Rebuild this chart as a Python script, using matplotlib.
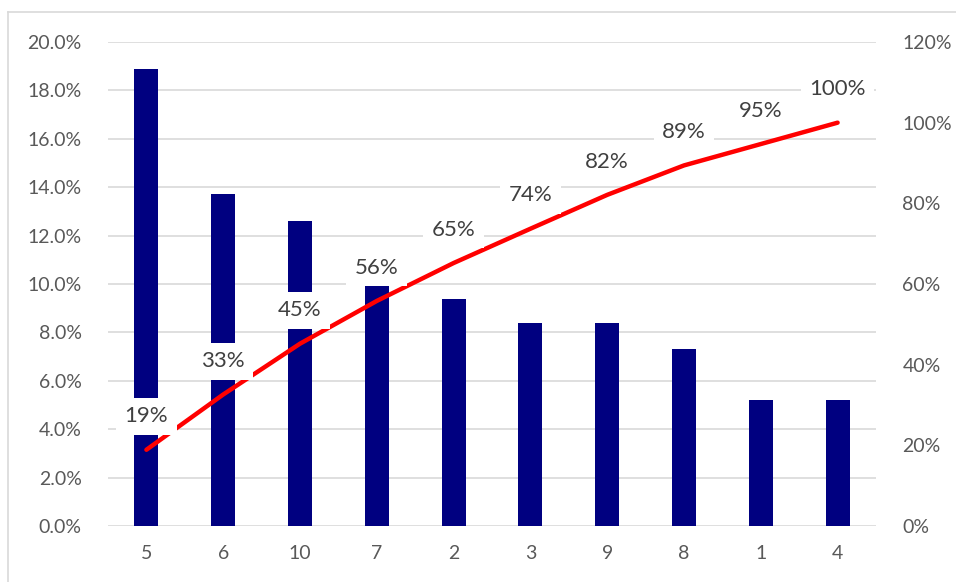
import numpy as np
import matplotlib.pyplot as plt
from matplotlib.lines import Line2D

# categories in pareto order
categories = ['5', '6', '10', '7', '2', '3', '9', '8', '1', '4']
share = [18.9, 13.7, 12.6, 9.9, 9.4, 8.4, 8.4, 7.3, 5.2, 5.2]          # % per category (left axis)
cumulative = [18.9, 32.6, 45.2, 55.8, 65.2, 73.7, 82.1, 89.4, 94.7, 100.0]  # cumulative % (right axis)

W, H = 956, 582
fig = plt.figure(figsize=(W / 100, H / 100), dpi=100)
plt.rcParams['font.family'] = ['Lato', 'DejaVu Sans']

# plot area in pixels: x 108..876, y 42..526
ax = fig.add_axes([108 / W, 1 - 526 / H, 768 / W, 484 / H])
ax2 = ax.twinx()

x = np.arange(len(categories))
grid_c = '#D9D9D9'
text_c = '#595959'

ax.bar(x, share, width=0.31, color='#000080', zorder=2)
ax.set_xlim(-0.5, len(categories) - 0.5)
ax.set_ylim(0, 20)
ax.set_yticks(np.arange(0, 21, 2))
ax.set_yticklabels([f'{v:.1f}%' for v in np.arange(0, 21, 2)])
ax.set_xticks(x)
ax.set_xticklabels(categories)
ax.yaxis.grid(True, color=grid_c, linewidth=1.2, zorder=0)
ax.set_axisbelow(True)

ax2.plot(x, cumulative, color='#FF0000', linewidth=3.2, solid_capstyle='round',
         solid_joinstyle='round', zorder=3)
ax2.set_ylim(0, 120)
ax2.set_yticks(np.arange(0, 121, 20))
ax2.set_yticklabels([f'{v}%' for v in range(0, 121, 20)])

# data labels with white boxes, like the spreadsheet version
for xi, c in zip(x, cumulative):
    ax2.annotate(f'{c:.0f}%', (xi, c), xytext=(0, 24), textcoords='offset points',
                 ha='center', va='center', fontsize=16, color='#404040', zorder=5,
                 bbox=dict(boxstyle='square,pad=0.38', fc='white', ec='none'))

for a in (ax, ax2):
    for s in a.spines.values():
        s.set_visible(False)
    a.tick_params(length=0, labelsize=14, colors=text_c)
ax.tick_params(axis='y', pad=19)
ax.tick_params(axis='x', pad=14)
ax2.tick_params(axis='y', pad=19)

# chart area border (top and left visible)
fig.add_artist(Line2D([8 / W, 1], [1 - 12 / H, 1 - 12 / H], color=grid_c, linewidth=1.2))
fig.add_artist(Line2D([8 / W, 8 / W], [0, 1 - 12 / H], color=grid_c, linewidth=1.2))

fig.savefig('out.png', dpi=100)
